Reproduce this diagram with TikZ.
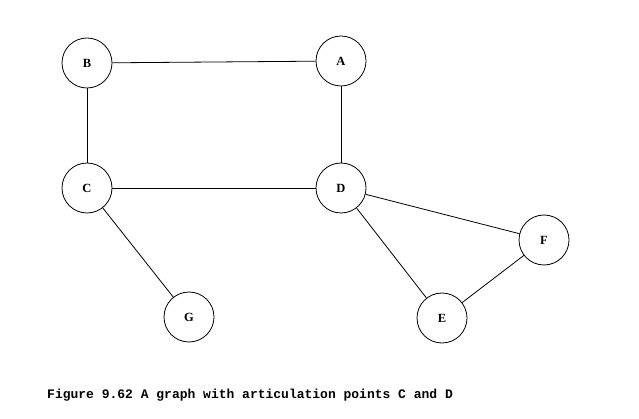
\documentclass[tikz,border=0pt]{standalone}
\usepackage{fontspec}
\setmainfont{Liberation Serif}
\newfontfamily\capfont{Liberation Mono}
\begin{document}
\begin{tikzpicture}[x=1pt,y=-1pt,
  vtx/.style={circle,draw,line width=0.8pt,minimum size=50pt,inner sep=0pt,font=\bfseries\fontsize{12.5}{12.5}\selectfont},
  edge/.style={line width=0.8pt}]
\useasboundingbox (0,0) rectangle (639,419);
\node[vtx] (B) at (87,63) {B};
\node[vtx] (A) at (341,61) {A};
\node[vtx] (C) at (87,188) {C};
\node[vtx] (D) at (341,188) {D};
\node[vtx] (F) at (544,240) {F};
\node[vtx] (G) at (189,317) {G};
\node[vtx] (E) at (442,318) {E};
\draw[edge] (B) -- (A);
\draw[edge] (B) -- (C);
\draw[edge] (A) -- (D);
\draw[edge] (C) -- (D);
\draw[edge] (C) -- (G);
\draw[edge] (D) -- (F);
\draw[edge] (D) -- (E);
\draw[edge] (E) -- (F);
\node[anchor=base west,inner sep=0pt,font=\capfont\bfseries\fontsize{13}{13}\selectfont] (cap) at (47,398) {Figure 9.62 A graph with articulation points C and D};
\end{tikzpicture}
\end{document}
